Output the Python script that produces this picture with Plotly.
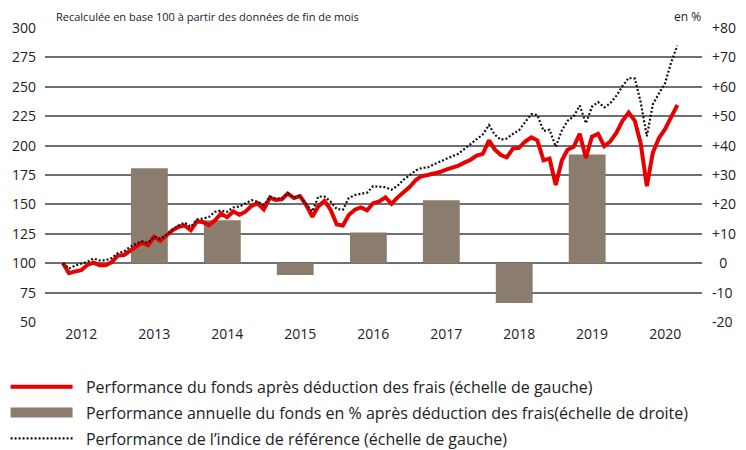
import pandas as pd
import plotly.graph_objects as go

# ---- data ----
start_month = "2012-03-31"
fund = [100, 91.5, 93, 94, 98.5, 100.5, 98.3, 98.3, 101, 106.5,
        107, 110.5, 114.5, 117.5, 115.3, 122.5, 119, 123.5, 128, 131,
        132, 128, 135.5, 135, 132.3, 136.3, 142.3, 139, 144, 141.2,
        143.8, 148.8, 151, 145.8, 155.8, 153.7, 154.4, 159.2, 155.4, 157,
        149.5, 139.5, 148.5, 153, 145.5, 133, 132, 141, 145.5, 147.5,
        145, 151, 152.5, 156, 150.5, 156, 160, 165, 171, 174,
        175, 176, 177.5, 179.5, 181, 183, 185.5, 188, 191.5, 193,
        204.5, 197, 192, 190, 197.5, 198, 203.5, 207, 204.5, 187.5,
        189, 166.5, 187.5, 196.5, 199, 210, 189.5, 207.5, 210, 199.5,
        203.5, 211, 221, 228, 221, 202, 165.5, 194, 206.5, 214,
        224.5, 234.5]
bench = [100, 95.5, 98, 99.3, 101.2, 104, 102.3, 102.5, 104.3, 108.6,
         110, 113.7, 116.6, 118.5, 117.3, 122.6, 120.8, 124.3, 128.5, 132,
         134.5, 131, 137.2, 138, 139.2, 143.7, 144.8, 143.7, 147.4, 148.2,
         150.7, 153.5, 152.4, 149.4, 156.6, 155, 155, 159.5, 155.7, 157.6,
         150, 144, 156.7, 156.7, 152.5, 146, 145.5, 155.3, 158, 159,
         160, 165.5, 165, 164.6, 162.5, 166, 171, 175, 179, 181,
         181.5, 184, 186.5, 189, 191, 193, 197, 201.5, 205.5, 209.5,
         217.5, 209.5, 205, 206, 210, 213, 220, 226.8, 226, 212.5,
         213.5, 199, 213, 221, 225, 234, 219, 233, 237, 232.5,
         236, 242.5, 250.5, 257.5, 257, 237, 208, 235, 244.5, 253,
         271, 285]
bar_years = [2013, 2014, 2015, 2016, 2017, 2018, 2019]
bar_values = [32.3, 14.6, -4.0, 10.4, 21.4, -13.5, 37.0]
year_labels = [2012, 2013, 2014, 2015, 2016, 2017, 2018, 2019, 2020]
left_ticks = [50, 75, 100, 125, 150, 175, 200, 225, 250, 275, 300]
right_ticks = [-20, -10, 0, 10, 20, 30, 40, 50, 60, 70, 80]

name_fund = "Performance du fonds après déduction des frais (échelle de gauche)"
name_bar = "Performance annuelle du fonds en % après déduction des frais(échelle de droite)"
name_bench = "Performance de l’indice de référence (échelle de gauche)"

months = pd.date_range(start_month, periods=len(fund), freq="ME").strftime("%Y-%m-%d").tolist()

YEAR_MS = 365.25 * 86400000
FONT = "Open Sans"
RED = "#e60000"
BROWN = "#8a7d6e"
GRID = "#6f6f6f"
TXT = "#222222"
PAD = "\u00a0\u00a0"

def right_label(v):
    if v > 0:
        return "+%d" % v
    if v == 0:
        return "\u00a0\u00a00"
    return "%d" % v

fig = go.Figure()
# bars on the primary (right-side) axis so the lines on the overlaying axis sit on top
fig.add_trace(go.Bar(
    x=[f"{y}-07-01" for y in bar_years], y=bar_values, yaxis="y",
    offset=-0.32 * YEAR_MS, width=0.505 * YEAR_MS,
    marker=dict(color=BROWN, line=dict(width=0)), showlegend=False,
))
fig.add_trace(go.Scatter(
    x=months, y=fund, mode="lines", name=PAD + name_fund, yaxis="y2",
    line=dict(color=RED, width=4), legendrank=1, legendgroup="a",
))
fig.add_trace(go.Scatter(
    x=[None], y=[None], mode="lines", name=PAD + name_bar, yaxis="y",
    line=dict(color=BROWN, width=12), legendrank=2, legendgroup="b",
))
fig.add_trace(go.Scatter(
    x=months, y=bench, mode="lines", name=PAD + name_bench, yaxis="y2",
    line=dict(color="#111111", width=2.2, dash="2px,2px"), legendrank=3,
    legendgroup="c",
))

fig.update_layout(
    width=746, height=450,
    margin=dict(l=45, r=44, t=28, b=128, autoexpand=False),
    paper_bgcolor="white", plot_bgcolor="white",
    font=dict(family=FONT, size=14, color=TXT),
    showlegend=True,
    legend=dict(x=-0.06, y=-0.163, xanchor="left", yanchor="top",
                font=dict(size=16, color=TXT), itemwidth=62,
                tracegroupgap=2, bgcolor="rgba(0,0,0,0)"),
    xaxis=dict(type="date", range=["2012-01-01", "2021-01-01"],
               tickmode="array", tickvals=[f"{y}-07-01" for y in year_labels],
               ticktext=[str(y) for y in year_labels],
               showgrid=False, zeroline=False, showline=False, ticks="",
               ticklabelstandoff=2, tickfont=dict(size=14)),
    yaxis=dict(range=[-20, 80], side="right", tickmode="array",
               tickvals=right_ticks, ticktext=[right_label(v) for v in right_ticks],
               showgrid=True, gridcolor=GRID, gridwidth=1.5, zeroline=False,
               showline=False, ticks="", ticklabelstandoff=9,
               tickfont=dict(size=14)),
    yaxis2=dict(range=[50, 300], overlaying="y", side="left", tickmode="array",
                tickvals=left_ticks, showgrid=False, zeroline=False,
                showline=False, ticks="", ticklabelstandoff=8,
                tickfont=dict(size=14)),
    annotations=[
        dict(text="Recalculée en base 100 à partir des données de fin de mois",
             x=0.013, y=1, xref="paper", yref="paper", xanchor="left",
             yanchor="middle", yshift=12, showarrow=False,
             font=dict(size=11, color=TXT)),
        dict(text="en %", x=1.002, y=1, xref="paper", yref="paper",
             xanchor="right", yanchor="middle", yshift=12, showarrow=False,
             font=dict(size=12, color=TXT)),
    ],
)

fig.write_html("out.html", config={"displayModeBar": False},
               post_script="document.body.style.margin='0';")
